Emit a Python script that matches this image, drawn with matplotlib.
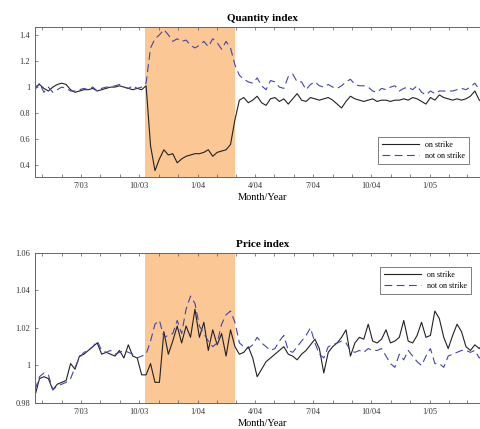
import numpy as np
import pandas as pd
import matplotlib
matplotlib.use('Agg')
import matplotlib.pyplot as plt
import matplotlib.dates as mdates
from matplotlib.ticker import FuncFormatter

plt.rcParams['font.family'] = ['Liberation Serif', 'DejaVu Serif']

# weekly observations
weeks = pd.date_range('2003-04-20', periods=103, freq='7D')
strike_start = pd.Timestamp('2003-10-11')
strike_end = pd.Timestamp('2004-02-29')

qty_strike = [1.00, 1.02, 0.99, 0.97, 1.00, 1.02, 1.03, 1.02, 0.98, 0.96, 0.97, 0.98, 0.98,
              0.99, 0.97, 0.98, 0.99, 1.00, 1.00, 1.01, 1.00, 0.99, 0.98, 0.99, 0.98, 1.01,
              0.55, 0.36, 0.45, 0.52, 0.48, 0.49, 0.42, 0.45, 0.47, 0.48, 0.49, 0.49, 0.50,
              0.52, 0.47, 0.50, 0.51, 0.52, 0.56,
              0.75, 0.90, 0.92, 0.88, 0.90, 0.93, 0.88, 0.86, 0.91, 0.92, 0.89, 0.91, 0.87,
              0.91, 0.95, 0.90, 0.89, 0.92, 0.91, 0.90, 0.91, 0.92, 0.90, 0.87, 0.84, 0.89,
              0.93, 0.91, 0.90, 0.89, 0.90, 0.91, 0.89, 0.90, 0.90, 0.89, 0.90, 0.90, 0.91,
              0.90, 0.92, 0.91, 0.89, 0.87, 0.92, 0.90, 0.94, 0.92, 0.91, 0.90, 0.91, 0.90,
              0.91, 0.93, 0.97, 0.90, 0.88, 0.91]
qty_other = [0.98, 1.03, 0.96, 1.00, 0.96, 0.98, 1.00, 0.99, 0.97, 0.97, 0.98, 0.99, 0.98,
             1.00, 0.97, 0.99, 1.00, 1.00, 1.01, 1.02, 1.00, 0.99, 1.01, 0.99, 1.00, 1.03,
             1.30, 1.37, 1.40, 1.44, 1.40, 1.35, 1.37, 1.35, 1.36, 1.32, 1.30, 1.32, 1.35,
             1.31, 1.37, 1.34, 1.29, 1.35, 1.30,
             1.17, 1.09, 1.06, 1.04, 1.03, 1.07, 1.01, 0.98, 1.05, 1.04, 1.00, 0.99, 1.08,
             1.10, 1.04, 1.04, 0.98, 1.02, 1.04, 1.01, 1.00, 1.02, 1.00, 0.99, 1.01, 1.04,
             1.06, 1.02, 1.01, 1.01, 1.00, 0.97, 0.96, 0.99, 0.98, 1.00, 1.01, 0.97, 0.99,
             1.00, 0.98, 1.01, 0.96, 0.94, 0.97, 0.95, 0.97, 0.97, 0.97, 0.97, 0.98, 0.99,
             0.98, 1.00, 1.03, 0.98, 0.97, 0.99]

price_strike = [0.984, 0.993, 0.994, 0.993, 0.987, 0.990, 0.991, 0.992, 1.001, 0.998, 1.005,
                1.006, 1.008, 1.010, 1.012, 1.006, 1.007, 1.006, 1.005, 1.008, 1.004, 1.011,
                1.005, 1.004, 0.995, 0.995, 1.001, 0.991, 0.991, 1.018, 1.006, 1.013, 1.021,
                1.012, 1.021, 1.015, 1.030, 1.015, 1.023, 1.008, 1.019, 1.011, 1.017, 1.005,
                1.019, 1.010, 1.006, 1.007, 1.010, 1.004, 0.994, 0.998, 1.002, 1.004, 1.006,
                1.008, 1.010, 1.006, 1.005, 1.003, 1.006, 1.008, 1.011, 1.014, 1.009, 0.996,
                1.007, 1.010, 1.012, 1.015, 1.019, 1.005, 1.012, 1.015, 1.014, 1.022, 1.013,
                1.012, 1.014, 1.019, 1.012, 1.013, 1.015, 1.024, 1.013, 1.012, 1.016, 1.023,
                1.015, 1.016, 1.029, 1.025, 1.015, 1.009, 1.016, 1.022, 1.018, 1.010, 1.008,
                1.011, 1.009, 1.012, 1.010]
price_other = [0.987, 0.994, 0.996, 0.995, 0.987, 0.989, 0.990, 0.991, 0.993, 0.999, 1.004,
               1.007, 1.008, 1.010, 1.013, 1.008, 1.007, 1.008, 1.006, 1.007, 1.008, 1.007,
               1.006, 1.004, 1.005, 1.006, 1.013, 1.022, 1.024, 1.015, 1.016, 1.017, 1.024,
               1.017, 1.030, 1.037, 1.033, 1.021, 1.017, 1.013, 1.010, 1.012, 1.022, 1.027,
               1.029, 1.023, 1.012, 1.010, 1.009, 1.011, 1.015, 1.012, 1.010, 1.008, 1.009,
               1.013, 1.016, 1.008, 1.007, 1.010, 1.013, 1.016, 1.020, 1.012, 1.006, 1.004,
               1.010, 1.011, 1.012, 1.013, 1.012, 1.008, 1.007, 1.008, 1.007, 1.009, 1.008,
               1.008, 1.009, 1.005, 1.001, 0.999, 1.006, 1.003, 1.008, 1.005, 1.002, 1.000,
               1.005, 1.009, 1.001, 1.001, 0.999, 1.005, 1.006, 1.007, 1.008, 1.008, 1.007,
               1.008, 1.004, 1.006, 1.005]

fig = plt.figure(figsize=(4.8, 4.29), dpi=100)
ax1 = fig.add_axes([0.073, 0.587, 0.948, 0.350])
ax2 = fig.add_axes([0.073, 0.0606, 0.948, 0.350])

def style(ax, title, ylim, yticks, legend_kw):
    ax.axvspan(strike_start, strike_end, color='#fbc795', lw=0, zorder=0)
    ax.set_xlim(pd.Timestamp('2003-04-20'), pd.Timestamp('2005-04-06'))
    ax.set_ylim(*ylim)
    ax.set_yticks(yticks)
    ax.yaxis.set_major_formatter(FuncFormatter(lambda v, p: '%g' % round(v, 3)))
    ax.xaxis.set_major_locator(mdates.MonthLocator(bymonth=[1, 4, 7, 10]))
    ax.xaxis.set_minor_locator(mdates.MonthLocator())
    ax.xaxis.set_major_formatter(FuncFormatter(
        lambda v, p: '%d/%02d' % (mdates.num2date(v).month, mdates.num2date(v).year % 100)))
    ax.tick_params(which='both', direction='in', top=True, right=True,
                   labelsize=6, length=2.5, width=0.5, colors='#555555', labelcolor='#333333')
    for s in ax.spines.values():
        s.set_linewidth(0.7)
        s.set_color('#666666')
    ax.set_title(title, fontsize=8, fontweight='bold', pad=4)
    ax.set_xlabel('Month/Year', fontsize=7.5, labelpad=2)
    leg = ax.legend(fontsize=5.8, frameon=True, fancybox=False, handlelength=4.5,
                    borderpad=0.5, labelspacing=0.4, **legend_kw)
    leg.get_frame().set_edgecolor('#444444')
    leg.get_frame().set_linewidth(0.6)

ax1.plot(weeks, qty_strike, color='#222222', lw=0.8, label='on strike')
ax1.plot(weeks, qty_other, color='#4444aa', lw=0.8, ls=(0, (7, 4)), label='not on strike')
style(ax1, 'Quantity index', (0.31, 1.46), [0.4, 0.6, 0.8, 1.0, 1.2, 1.4],
      dict(loc='lower right', bbox_to_anchor=(0.963, 0.06)))

ax2.plot(weeks, price_strike, color='#222222', lw=0.8, label='on strike')
ax2.plot(weeks, price_other, color='#4444aa', lw=0.8, ls=(0, (7, 4)), label='not on strike')
style(ax2, 'Price index', (0.98, 1.06), [0.98, 1.0, 1.02, 1.04, 1.06],
      dict(loc='upper right', bbox_to_anchor=(0.967, 0.933)))

fig.savefig('out.png', dpi=100)
